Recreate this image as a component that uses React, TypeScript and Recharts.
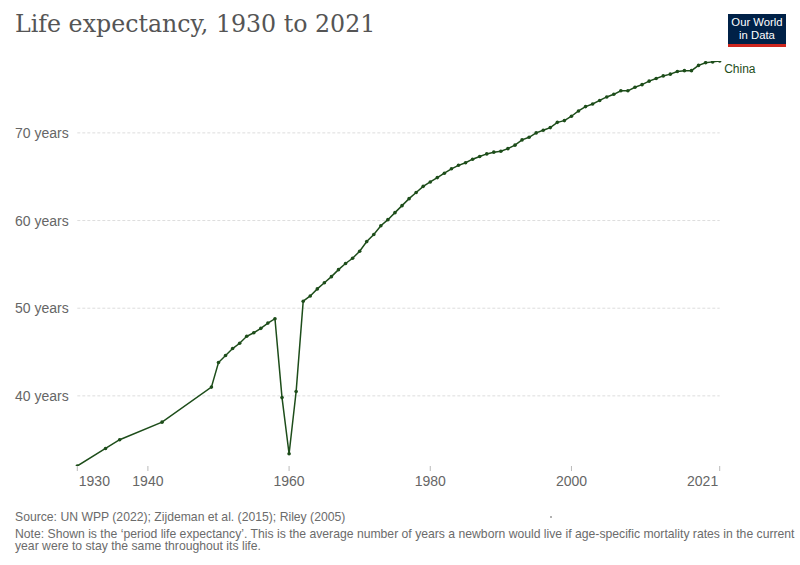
import { LineChart, Line, XAxis, YAxis, CartesianGrid, LabelList } from "recharts";

const YEARS = [
  1930, 1934, 1936, 1942, 1949, 1950, 1951, 1952, 1953, 1954, 1955, 1956,
  1957, 1958, 1959, 1960, 1961, 1962, 1963, 1964, 1965, 1966, 1967, 1968,
  1969, 1970, 1971, 1972, 1973, 1974, 1975, 1976, 1977, 1978, 1979, 1980,
  1981, 1982, 1983, 1984, 1985, 1986, 1987, 1988, 1989, 1990, 1991, 1992,
  1993, 1994, 1995, 1996, 1997, 1998, 1999, 2000, 2001, 2002, 2003, 2004,
  2005, 2006, 2007, 2008, 2009, 2010, 2011, 2012, 2013, 2014, 2015, 2016,
  2017, 2018, 2019, 2020, 2021,
];

const CHINA = [
  32.0, 34.0, 35.0, 37.0, 41.0, 43.8, 44.6, 45.4, 46.0, 46.8, 47.2, 47.7,
  48.3, 48.8, 39.8, 33.4, 40.5, 50.8, 51.4, 52.2, 52.9, 53.6, 54.4, 55.1,
  55.7, 56.5, 57.6, 58.4, 59.4, 60.1, 60.9, 61.7, 62.5, 63.2, 63.9, 64.4,
  64.9, 65.4, 65.9, 66.3, 66.6, 67.0, 67.3, 67.6, 67.8, 67.9, 68.2, 68.6,
  69.2, 69.5, 70.0, 70.3, 70.6, 71.2, 71.4, 71.9, 72.5, 73.0, 73.3, 73.7,
  74.1, 74.4, 74.8, 74.8, 75.2, 75.5, 75.9, 76.2, 76.5, 76.7, 77.0, 77.1,
  77.1, 77.7, 78.0, 78.1, 78.2,
];

const X_TICKS = [1930, 1940, 1960, 1980, 2000, 2021];
const Y_TICKS = [40, 50, 60, 70];

const LINE_COLOR = "#1d4d1a";
const TEXT_GRAY = "#666";
const SANS = "'Liberation Sans', Arial, sans-serif";

const data = YEARS.map((year, i) => ({ year, china: CHINA[i] }));

function YTick({ y, payload }: any) {
  return (
    <text x={15} y={y} dy={5} textAnchor="start" fill={TEXT_GRAY} fontSize={14} fontFamily={SANS}>
      {payload.value} years
    </text>
  );
}

function XTick({ x, payload }: any) {
  const v = payload.value;
  const anchor = v === X_TICKS[0] ? "start" : v === X_TICKS[X_TICKS.length - 1] ? "end" : "middle";
  const dx = anchor === "start" ? 1.5 : anchor === "end" ? -1.5 : 0;
  return (
    <g>
      <line x1={x} x2={x} y1={466} y2={471} stroke="#bbb" strokeWidth={1} />
      <text x={x + dx} y={486} textAnchor={anchor} fill={TEXT_GRAY} fontSize={14} fontFamily={SANS}>
        {v}
      </text>
    </g>
  );
}

function EndLabel({ x, y, index }: any) {
  if (index !== data.length - 1) return null;
  return (
    <text x={x + 4.5} y={y + 11.5} fill={LINE_COLOR} fontSize={12} fontFamily={SANS}>
      China
    </text>
  );
}

export default function App() {
  return (
    <div style={{ position: "relative", width: 800, height: 565, background: "#fff", overflow: "hidden" }}>
      <style>{"body{margin:0}"}</style>
      <div
        style={{
          position: "absolute",
          left: 15,
          top: 9,
          fontFamily: "'DejaVu Serif', serif",
          fontSize: 23.7,
          color: "#555",
          whiteSpace: "nowrap",
          lineHeight: "30px",
        }}
      >
        Life expectancy, 1930 to 2021
      </div>

      <div
        style={{
          position: "absolute",
          left: 728,
          top: 14,
          width: 58,
          height: 33,
          background: "#002147",
          borderBottom: "3px solid #ce261e",
          boxSizing: "border-box",
          color: "#fff",
          fontFamily: SANS,
          fontSize: 11.3,
          lineHeight: "13px",
          textAlign: "center",
          paddingTop: 2,
        }}
      >
        <div>Our World</div>
        <div>in Data</div>
      </div>

      <div style={{ position: "absolute", left: 0, top: 0 }}>
        <LineChart
          width={800}
          height={565}
          data={data}
          margin={{ top: 61, right: 80.3, bottom: 69, left: 15 }}
        >
          <CartesianGrid
            vertical={false}
            horizontalValues={Y_TICKS}
            stroke="#ddd"
            strokeDasharray="3 2"
          />
          <XAxis
            dataKey="year"
            type="number"
            domain={[1930, 2021]}
            ticks={X_TICKS}
            height={30}
            axisLine={false}
            tickLine={false}
            tick={<XTick />}
            interval={0}
          />
          <YAxis
            type="number"
            domain={[32, 78.2]}
            ticks={Y_TICKS}
            width={62.3}
            axisLine={false}
            tickLine={false}
            tick={<YTick />}
            allowDataOverflow
          />
          <Line
            type="linear"
            dataKey="china"
            stroke={LINE_COLOR}
            strokeWidth={1.5}
            dot={{ r: 1.8, fill: LINE_COLOR, stroke: LINE_COLOR, strokeWidth: 0 }}
            isAnimationActive={false}
          >
            <LabelList dataKey="china" content={<EndLabel />} />
          </Line>
        </LineChart>
      </div>

      <div
        style={{
          position: "absolute",
          left: 15,
          top: 511,
          fontFamily: SANS,
          fontSize: 12.2,
          lineHeight: "13px",
          color: "#6b6b6b",
          whiteSpace: "nowrap",
        }}
      >
        Source: UN WPP (2022); Zijdeman et al. (2015); Riley (2005)
      </div>
      <div
        style={{
          position: "absolute",
          left: 550,
          top: 516,
          width: 1.5,
          height: 1.5,
          borderRadius: 1,
          background: "#999",
        }}
      />
      <div
        style={{
          position: "absolute",
          left: 15,
          top: 527.5,
          fontFamily: SANS,
          fontSize: 12.2,
          lineHeight: "12.5px",
          color: "#6b6b6b",
          whiteSpace: "nowrap",
        }}
      >
        Note: Shown is the ‘period life expectancy’. This is the average number of years a newborn would live if
        age-specific mortality rates in the current
        <br />
        year were to stay the same throughout its life.
      </div>
    </div>
  );
}
